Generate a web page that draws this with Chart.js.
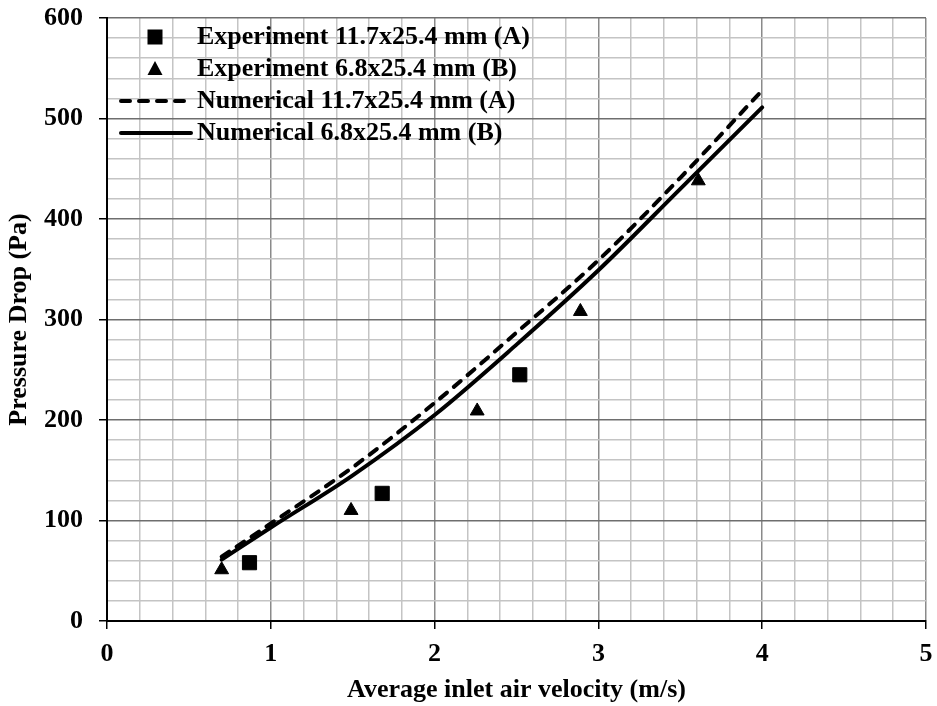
<!DOCTYPE html>
<html lang="en">
<head>
    <meta charset="UTF-8">
    <title>Pressure Drop vs Inlet Air Velocity</title>
    <script src="https://cdn.jsdelivr.net/npm/chart.js"></script>
    <style>
        html, body { margin: 0; padding: 0; background: #fff; }
        #wrap { width: 937px; height: 706px; }
    </style>
</head>
<body>
<div id="wrap"><canvas id="chart" width="937" height="706"></canvas></div>
<script>
    // Series labels
    const seriesNames = [
        'Experiment 11.7x25.4 mm (A)',
        'Experiment 6.8x25.4 mm (B)',
        'Numerical 11.7x25.4 mm (A)',
        'Numerical 6.8x25.4 mm (B)'
    ];

    // Experiment A (squares)
    const expAx = [0.87, 1.68, 2.52];
    const expAy = [58, 127, 245];

    // Experiment B (triangles)
    const expBx = [0.70, 1.49, 2.26, 2.89, 3.61];
    const expBy = [51, 110, 209, 308, 438];

    // Numerical curves
    const numX = [0.70, 1.0, 1.5, 2.0, 2.5, 3.0, 3.5, 4.0];
    const numAy = [64, 97, 153, 217, 287, 359, 441, 528];
    const numBy = [61, 93, 145, 205, 275, 349, 430, 511];

    const xTitle = 'Average inlet air velocity (m/s)';
    const yTitle = 'Pressure Drop (Pa)';

    const toPoints = (xs, ys) => xs.map((x, i) => ({ x: x, y: ys[i] }));
    const isWhole = (v, step) => Math.abs(v / step - Math.round(v / step)) < 1e-6;

    const tickFont = { family: '"Liberation Serif", "Times New Roman", serif', size: 26, weight: 'bold' };

    // legend drawn inside the plot, top-left, like the original
    const cornerLegend = {
        id: 'cornerLegend',
        afterDraw(chart) {
            const ctx = chart.ctx;
            const left = chart.chartArea.left;
            const top = chart.chartArea.top;
            ctx.save();
            ctx.font = 'bold 26px "Liberation Serif", "Times New Roman", serif';
            ctx.textBaseline = 'middle';
            ctx.fillStyle = '#000';
            ctx.strokeStyle = '#000';
            chart.data.datasets.forEach((ds, i) => {
                const cy = top + 19 + i * 32;
                const mx = left + 48;
                if (ds.showLine) {
                    ctx.lineWidth = ds.borderWidth;
                    ctx.lineCap = 'round';
                    ctx.setLineDash(ds.borderDash || []);
                    ctx.beginPath();
                    ctx.moveTo(left + 14, cy);
                    ctx.lineTo(left + 84, cy);
                    ctx.stroke();
                    ctx.setLineDash([]);
                } else if (ds.pointStyle === 'rect') {
                    ctx.fillRect(mx - 7.5, cy - 7.5, 15, 15);
                } else {
                    ctx.beginPath();
                    ctx.moveTo(mx, cy - 8);
                    ctx.lineTo(mx + 7.5, cy + 6);
                    ctx.lineTo(mx - 7.5, cy + 6);
                    ctx.closePath();
                    ctx.fill();
                }
                ctx.fillText(ds.label, left + 90, cy);
            });
            ctx.restore();
        }
    };

    const ctx = document.getElementById('chart').getContext('2d');
    new Chart(ctx, {
        type: 'scatter',
        data: {
            datasets: [{
                label: seriesNames[0],
                data: toPoints(expAx, expAy),
                pointStyle: 'rect',
                pointRadius: 10,
                pointBorderWidth: 1,
                backgroundColor: '#000',
                borderColor: '#000',
                showLine: false
            }, {
                label: seriesNames[1],
                data: toPoints(expBx, expBy),
                pointStyle: 'triangle',
                pointRadius: 8,
                pointBorderWidth: 1,
                backgroundColor: '#000',
                borderColor: '#000',
                showLine: false
            }, {
                label: seriesNames[2],
                data: toPoints(numX, numAy),
                showLine: true,
                borderColor: '#000',
                borderWidth: 4,
                borderDash: [9, 9],
                borderCapStyle: 'round',
                cubicInterpolationMode: 'monotone',
                pointRadius: 0,
                fill: false
            }, {
                label: seriesNames[3],
                data: toPoints(numX, numBy),
                showLine: true,
                borderColor: '#000',
                borderWidth: 4,
                borderCapStyle: 'round',
                cubicInterpolationMode: 'monotone',
                pointRadius: 0,
                fill: false
            }]
        },
        options: {
            responsive: false,
            animation: false,
            layout: { padding: { left: 0, right: 9, top: 18, bottom: 0 } },
            plugins: {
                legend: { display: false },
                tooltip: { enabled: false }
            },
            scales: {
                x: {
                    type: 'linear',
                    min: 0,
                    max: 5,
                    afterFit: (scale) => {
                        scale.height = 85;
                        scale.paddingLeft = 0;
                        scale.paddingRight = 0;
                    },
                    ticks: {
                        stepSize: 0.2,
                        autoSkip: false,
                        maxRotation: 0,
                        padding: 10,
                        color: '#000',
                        font: tickFont,
                        callback: (v) => isWhole(v, 1) ? Math.round(v) : ''
                    },
                    grid: {
                        color: (c) => isWhole(c.tick.value, 1) ? '#8a8a8a' : '#c4c4c4',
                        lineWidth: 1.5,
                        tickColor: (c) => isWhole(c.tick.value, 1) ? '#000' : 'rgba(0,0,0,0)',
                        tickLength: 8,
                        tickWidth: 1.5
                    },
                    border: { color: '#000', width: 2 },
                    title: {
                        display: true,
                        text: xTitle,
                        color: '#000',
                        font: tickFont,
                        padding: { top: 0, bottom: 0 }
                    }
                },
                y: {
                    type: 'linear',
                    min: 0,
                    max: 600,
                    afterFit: (scale) => {
                        scale.width = 107;
                        scale.paddingTop = 0;
                        scale.paddingBottom = 0;
                    },
                    ticks: {
                        stepSize: 20,
                        autoSkip: false,
                        padding: 16,
                        color: '#000',
                        font: tickFont,
                        callback: (v) => isWhole(v, 100) ? v : ''
                    },
                    grid: {
                        color: (c) => isWhole(c.tick.value, 100) ? '#6e6e6e' : '#c4c4c4',
                        lineWidth: 1.5,
                        tickColor: (c) => isWhole(c.tick.value, 100) ? '#000' : 'rgba(0,0,0,0)',
                        tickLength: 8,
                        tickWidth: 1.5
                    },
                    border: { color: '#000', width: 2 },
                    title: {
                        display: true,
                        text: yTitle,
                        color: '#000',
                        font: tickFont,
                        padding: { top: 4, bottom: 0 }
                    }
                }
            }
        },
        plugins: [cornerLegend]
    });
</script>
</body>
</html>
